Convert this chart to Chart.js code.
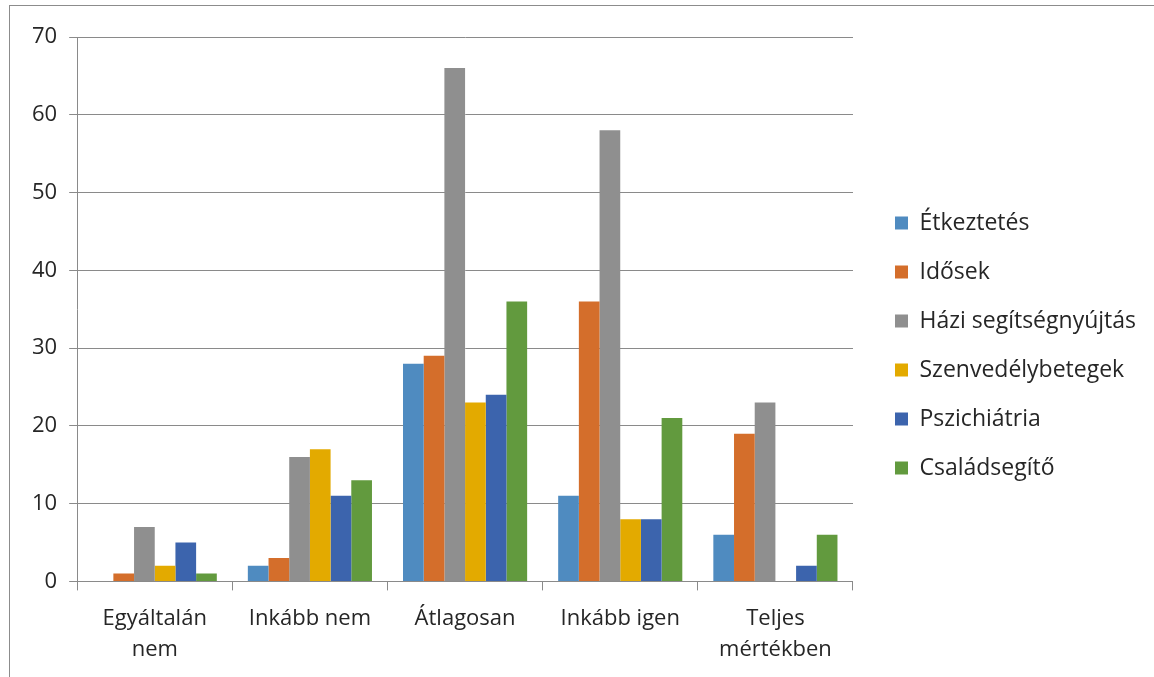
<!DOCTYPE html>
<html>
<head>
<meta charset="utf-8">
<script src="https://cdn.jsdelivr.net/npm/chart.js@4/dist/chart.umd.min.js"></script>
<style>
  html, body { margin: 0; padding: 0; background: #fff; overflow: hidden; }
  #wrap { position: relative; width: 1154px; height: 677px; }
  #frame { position: absolute; left: 9px; top: 5px; width: 1160px; height: 700px;
           border-left: 1px solid #8c8c8c; border-top: 1px solid #8c8c8c; pointer-events: none; }
  canvas { position: absolute; left: 0; top: 0; }
</style>
</head>
<body>
<div id="wrap">
  <canvas id="chart" width="1154" height="677"></canvas>
  <div id="frame"></div>
</div>
<script>
// Response categories along the x axis
const categories = [
  ['Egyáltalán', 'nem'],
  'Inkább nem',
  'Átlagosan',
  'Inkább igen',
  ['Teljes', 'mértékben']
];

// One series per service type
const seriesNames = [
  'Étkeztetés',
  'Idősek',
  'Házi segítségnyújtás',
  'Szenvedélybetegek',
  'Pszichiátria',
  'Családsegítő'
];

const etkeztetes        = [0, 2, 28, 11, 6];
const idosek            = [1, 3, 29, 36, 19];
const haziSegitseg      = [7, 16, 66, 58, 23];
const szenvedelybetegek = [2, 17, 23, 8, 0];
const pszichiatria      = [5, 11, 24, 8, 2];
const csaladsegito      = [1, 13, 36, 21, 6];

const yTicks = [0, 10, 20, 30, 40, 50, 60, 70];

const seriesValues = [etkeztetes, idosek, haziSegitseg, szenvedelybetegek, pszichiatria, csaladsegito];
const seriesColors = ['#4f8bc0', '#d46e2b', '#8f8f8f', '#e3aa00', '#3c64ad', '#629a3e'];

const FONT = '"Open Sans", "Noto Sans", sans-serif';
const TEXT = '#262626';
const LINE = '#8a8a8a';

// Extra empty space between the plot area and the legend column,
// and a small upward nudge of the legend block
const LEGEND_GAP = 16;
const LEGEND_RAISE = 12;
const legendGap = {
  id: 'legendGap',
  beforeLayout(chart) {
    const lg = chart.legend;
    if (lg && !lg.$gapWrapped) {
      const fit = lg.fit.bind(lg);
      lg.fit = function () { fit(); this.width += LEGEND_GAP; };
      lg.$gapWrapped = true;
    }
  },
  afterLayout(chart) {
    const lg = chart.legend;
    if (!lg) return;
    lg.left += LEGEND_GAP;
    lg.top -= LEGEND_RAISE;
    lg.bottom -= LEGEND_RAISE;
  }
};

new Chart(document.getElementById('chart'), {
  type: 'bar',
  data: {
    labels: categories,
    datasets: seriesNames.map((name, i) => ({
      label: name,
      data: seriesValues[i],
      backgroundColor: seriesColors[i],
      borderWidth: 0,
      categoryPercentage: 0.8,
      barPercentage: 1.0
    }))
  },
  options: {
    responsive: false,
    animation: false,
    layout: { padding: { top: 37, left: 20, right: 8, bottom: -1 } },
    plugins: {
      tooltip: { enabled: false },
      legend: {
        position: 'right',
        align: 'center',
        labels: {
          font: { family: FONT, size: 23 },
          color: TEXT,
          boxWidth: 13,
          boxHeight: 13,
          padding: 26
        }
      }
    },
    scales: {
      x: {
        grid: {
          display: true,
          offset: true,
          drawOnChartArea: false,
          drawTicks: true,
          tickLength: 9,
          color: LINE
        },
        border: { display: true, color: LINE, width: 1 },
        ticks: {
          font: { family: FONT, size: 22, lineHeight: 1.4 },
          color: TEXT,
          padding: 13,
          maxRotation: 0,
          autoSkip: false
        }
      },
      y: {
        min: yTicks[0],
        max: yTicks[yTicks.length - 1],
        afterBuildTicks: (axis) => { axis.ticks = yTicks.map(v => ({ value: v })); },
        grid: {
          color: LINE,
          lineWidth: 1,
          drawTicks: true,
          tickLength: 8
        },
        border: { display: true, color: LINE, width: 1 },
        ticks: {
          font: { family: FONT, size: 22 },
          color: TEXT,
          padding: 12
        }
      }
    }
  },
  plugins: [legendGap]
});
</script>
</body>
</html>
